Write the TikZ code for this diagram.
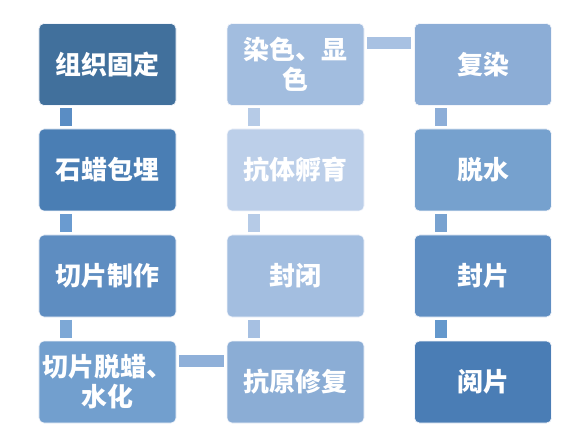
\documentclass[tikz,border=0pt]{standalone}
\usepackage{fontspec}
\newfontfamily\cjk{Noto Sans CJK SC}

\definecolor{b11}{HTML}{41709C}
\definecolor{b12}{HTML}{4A7EB4}
\definecolor{b13}{HTML}{5E8DC1}
\definecolor{b14}{HTML}{729FCE}
\definecolor{b21}{HTML}{A2BDDF}
\definecolor{b22}{HTML}{BCCFE9}
\definecolor{b23}{HTML}{A3BEE0}
\definecolor{b24}{HTML}{8BADD5}
\definecolor{b31}{HTML}{8CADD6}
\definecolor{b32}{HTML}{76A1CE}
\definecolor{b33}{HTML}{5F8EC2}
\definecolor{b34}{HTML}{4A7DB5}

\definecolor{l11}{HTML}{5A8DC4}
\definecolor{l12}{HTML}{6A9BD0}
\definecolor{l13}{HTML}{7DA8D6}
\definecolor{l14}{HTML}{8FB0D9}
\definecolor{l21}{HTML}{A6C0E2}
\definecolor{l22}{HTML}{B6CBE7}
\definecolor{l23}{HTML}{B6CBE7}
\definecolor{l24}{HTML}{A8C1E2}
\definecolor{l31}{HTML}{8DAED8}
\definecolor{l32}{HTML}{78A2D0}
\definecolor{l33}{HTML}{6498CC}

\begin{document}
\begin{tikzpicture}[x=1bp,y=-1bp,
    box/.style={rectangle, rounded corners=5bp, minimum width=137bp, minimum height=82bp,
        draw=white!80!b22, line width=0.6bp, text=white, align=center,
        font=\cjk\bfseries\fontsize{26}{30}\selectfont},
    vlink/.style={line width=12bp},
    hlink/.style={line width=12bp}]

\fill[white] (0,0) rectangle (585,443);
\useasboundingbox (0,0) rectangle (585,443);

% first column
\node[box, fill=b11] (guding)  at (107.5,64.5) {组织固定};
\node[box, fill=b12] (baomai)  at (107.5,170)  {石蜡包埋};
\node[box, fill=b13] (qiepian) at (107.5,276)  {切片制作};
\node[box, fill=b14] (tuola)   at (107.5,382)  {切片脱蜡、\\水化};

% second column
\node[box, fill=b24] (xiufu)   at (295.5,382)  {抗原修复};
\node[box, fill=b23] (fengbi)  at (295.5,276)  {封闭};
\node[box, fill=b22] (fuyu)    at (295.5,170)  {抗体孵育};
\node[box, fill=b21] (xianse)  at (295.5,64.5) {染色、显\\色};

% third column
\node[box, fill=b31] (furan)    at (483,64.5) {复染};
\node[box, fill=b32] (tuoshui)  at (483,170)  {脱水};
\node[box, fill=b33] (fengpian) at (483,276)  {封片};
\node[box, fill=b34] (yuepian)  at (483,382)  {阅片};

    % going down
    \foreach \a/\b/\c in {guding/baomai/l11, baomai/qiepian/l12, qiepian/tuola/l13,
                          furan/tuoshui/l31, tuoshui/fengpian/l32, fengpian/yuepian/l33} {
        \draw[vlink, draw=\c] ([xshift=27bp,yshift=-2.5bp]\a.south west) -- ([xshift=27bp,yshift=2.5bp]\b.north west);
    }
    % going up
    \foreach \a/\b/\c in {xiufu/fengbi/l21, fengbi/fuyu/l22, fuyu/xianse/l23} {
        \draw[vlink, draw=\c] ([xshift=27bp,yshift=2.5bp]\a.north west) -- ([xshift=27bp,yshift=-2.5bp]\b.south west);
    }

    \draw[hlink, draw=l14] ([xshift=3bp,yshift=-20bp]tuola.north east) -- ([xshift=-3bp,yshift=-20bp]xiufu.north west);
    \draw[hlink, draw=l24] ([xshift=3bp,yshift=-19.5bp]xianse.north east) -- ([xshift=-3bp,yshift=-19.5bp]furan.north west);

\end{tikzpicture}
\end{document}
